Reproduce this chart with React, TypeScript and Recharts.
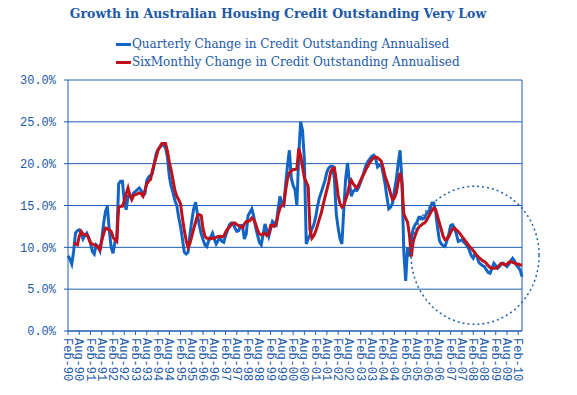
import {
  LineChart,
  Line,
  XAxis,
  YAxis,
  CartesianGrid,
  Legend,
  ReferenceDot,
  ReferenceLine,
} from "recharts";

const AXIS_BLUE = "#1f5fae";
const TEXT_BLUE = "#2058a8";

// Monthly categories Feb-90 .. Apr-10
const monthNames = ["Jan", "Feb", "Mar", "Apr", "May", "Jun", "Jul", "Aug", "Sep", "Oct", "Nov", "Dec"];
const monthLabels: string[] = [];
for (let m = 0; m < 243; m++) {
  const idx = 1 + m;
  const yr = (1990 + Math.floor(idx / 12)) % 100;
  monthLabels.push(`${monthNames[idx % 12]}-${String(yr).padStart(2, "0")}`);
}

// Quarterly change in credit outstanding, annualised (%)
const quarterly = [
  9.0, 8.6, 8.0, 9.5, 11.7, 12.0, 12.1, 11.8, 11.0, 11.4, 11.7, 11.2,
  10.5, 9.5, 9.2, 10.3, 10.1, 9.6, 11.0, 12.9, 14.3, 14.9, 12.0, 10.0,
  9.3, 10.6, 11.0, 17.6, 17.9, 17.9, 15.5, 14.5, 16.1, 16.1, 16.0, 16.5,
  16.7, 16.9, 17.1, 16.8, 16.2, 16.4, 18.0, 18.4, 18.6, 18.8, 20.0, 21.2,
  21.7, 22.0, 22.2, 22.2, 21.9, 20.8, 18.5, 17.3, 16.5, 15.6, 15.0, 13.6,
  12.5, 11.0, 9.4, 9.2, 9.4, 11.5, 13.2, 14.6, 15.4, 14.0, 12.6, 11.6,
  10.9, 10.3, 10.1, 10.8, 11.2, 11.7, 11.0, 10.4, 10.8, 11.2, 10.7, 10.6,
  11.4, 12.0, 12.7, 12.9, 12.8, 12.3, 11.9, 12.0, 12.6, 12.6, 11.0, 11.6,
  13.8, 14.2, 14.6, 13.7, 12.4, 11.5, 10.6, 10.3, 11.5, 12.8, 12.0, 11.3,
  12.2, 13.1, 12.9, 12.7, 14.6, 16.1, 15.2, 15.0, 17.5, 19.8, 21.6, 18.3,
  17.4, 16.9, 15.0, 21.0, 25.0, 24.0, 20.5, 10.4, 11.0, 11.5, 12.2, 12.7,
  13.6, 14.9, 15.9, 16.6, 17.3, 18.0, 19.0, 19.5, 19.7, 19.7, 18.2, 14.0,
  12.3, 11.0, 10.4, 14.5, 18.2, 20.1, 17.8, 16.1, 16.7, 16.9, 16.8, 17.2,
  17.8, 18.4, 19.2, 19.9, 20.3, 20.6, 20.9, 21.0, 20.6, 19.6, 19.8, 19.9,
  18.8, 17.6, 16.0, 14.6, 14.8, 15.3, 16.8, 18.1, 20.0, 21.6, 18.0, 9.5,
  6.0, 10.0, 8.9, 11.0, 12.2, 12.7, 13.0, 13.6, 13.6, 13.4, 13.5, 14.0,
  14.2, 14.6, 15.3, 15.3, 14.2, 12.3, 10.8, 10.4, 10.2, 10.1, 10.8, 11.6,
  12.6, 12.7, 12.3, 11.6, 10.7, 10.8, 10.9, 10.6, 10.4, 10.1, 9.6, 9.0,
  8.7, 9.3, 8.9, 8.2, 8.0, 7.8, 7.7, 7.3, 7.0, 6.9, 7.5, 8.1,
  7.8, 7.5, 7.7, 8.0, 8.1, 7.9, 7.7, 8.0, 8.4, 8.7, 8.4, 7.9,
  7.6, 7.3, 6.5,
];

// Six monthly change in credit outstanding, annualised (%)
const sixMonthly = [
  null, null, null, 10.5, 10.4, 10.3, 11.3, 11.9, 11.6, 11.5, 11.5, 11.1,
  10.5, 10.4, 10.3, 10.2, 10.0, 9.7, 10.8, 11.6, 12.3, 12.2, 12.1, 11.9,
  11.2, 10.9, 10.7, 14.8, 14.9, 14.9, 15.5, 16.4, 17.1, 16.2, 15.7, 16.2,
  16.3, 16.4, 16.5, 16.4, 16.1, 16.8, 17.6, 17.9, 18.1, 19.2, 20.0, 20.8,
  21.6, 22.0, 22.4, 22.4, 22.4, 21.5, 20.2, 19.2, 18.0, 16.8, 16.1, 15.7,
  15.2, 13.5, 12.0, 10.8, 10.0, 10.5, 11.3, 12.2, 13.0, 13.8, 13.9, 13.8,
  12.2, 11.3, 11.1, 11.1, 11.0, 11.1, 11.1, 11.2, 11.3, 11.3, 11.3, 11.3,
  11.8, 12.2, 12.4, 12.7, 12.9, 12.9, 12.7, 12.6, 12.5, 12.3, 12.8, 13.1,
  13.1, 13.2, 13.5, 13.3, 12.8, 12.1, 11.6, 11.5, 11.6, 11.7, 11.4, 11.6,
  12.6, 12.6, 12.5, 12.8, 13.9, 14.7, 15.0, 15.1, 16.8, 18.2, 18.9, 19.1,
  19.3, 19.3, 19.4, 21.8, 21.0, 19.6, 18.3, 17.8, 17.3, 12.1, 11.1, 11.4,
  11.9, 12.6, 13.4, 14.1, 15.1, 16.0, 16.9, 17.8, 19.0, 19.4, 19.5, 18.0,
  16.2, 15.2, 14.8, 15.0, 15.7, 16.4, 17.4, 18.0, 17.6, 17.3, 17.1, 17.5,
  18.0, 18.5, 18.9, 19.4, 19.8, 20.2, 20.5, 20.7, 20.8, 20.7, 20.5, 20.3,
  19.5, 18.5, 17.9, 17.2, 16.4, 15.7, 15.9, 16.5, 17.8, 18.9, 17.7, 14.0,
  13.5, 13.0, 11.5, 8.9, 10.7, 11.4, 12.0, 12.4, 12.6, 12.8, 12.9, 13.2,
  13.6, 14.0, 14.4, 14.7, 14.5, 13.7, 12.9, 12.1, 11.3, 10.9, 11.0, 11.3,
  11.8, 12.2, 12.3, 12.1, 11.9, 11.6, 11.3, 11.0, 10.7, 10.4, 10.1, 9.9,
  9.6, 9.3, 9.0, 8.8, 8.6, 8.4, 8.3, 8.1, 7.8, 7.6, 7.5, 7.5,
  7.5, 7.6, 7.9, 8.1, 8.0, 7.9, 8.0, 8.2, 8.3, 8.2, 8.1, 8.0,
  8.0, 7.9, 7.9,
];

const yTicks = [0, 5, 10, 15, 20, 25, 30];

// circled region (annotation)
const circleAt = { month: "Mar-08", value: 9.05 };

const data = monthLabels.map((month, i) => ({
  month,
  quarterly: quarterly[i],
  sixMonthly: sixMonthly[i],
}));

function MonthTick(props: any) {
  const { x, y, payload } = props;
  return (
    <text
      x={x}
      y={y}
      dy={4}
      transform={`rotate(90, ${x}, ${y})`}
      textAnchor="start"
      fill={TEXT_BLUE}
      fontSize={12}
      fontFamily="Liberation Mono"
    >
      {payload.value}
    </text>
  );
}

function LegendBox(props: any) {
  const items = props.payload || [];
  return (
    <div style={{ fontFamily: "DejaVu Serif", fontSize: 12, color: TEXT_BLUE }}>
      {items.map((it: any) => (
        <div key={it.value} style={{ display: "flex", alignItems: "center", height: 18 }}>
          <span
            style={{ display: "inline-block", width: 15, height: 3, background: it.color, marginRight: 1 }}
          />
          <span>{it.value}</span>
        </div>
      ))}
    </div>
  );
}

export default function App() {
  return (
    <div style={{ position: "absolute", left: 0, top: 0, width: 577, height: 395, background: "#fff" }}>
      <div
        style={{
          position: "absolute",
          left: 0,
          top: 6,
          width: 556,
          textAlign: "center",
          fontFamily: "DejaVu Serif",
          fontWeight: "bold",
          fontSize: 12.5,
          color: TEXT_BLUE,
          zIndex: 2,
        }}
      >
        Growth in Australian Housing Credit Outstanding Very Low
      </div>
      <LineChart
        width={577}
        height={395}
        data={data}
        margin={{ top: 80, right: 55, left: 0, bottom: 4 }}
      >
        <CartesianGrid vertical={false} stroke={AXIS_BLUE} strokeWidth={1} />
        <XAxis
          dataKey="month"
          interval={5}
          tick={<MonthTick />}
          tickSize={4}
          tickMargin={3}
          height={60}
          axisLine={{ stroke: AXIS_BLUE }}
          tickLine={{ stroke: AXIS_BLUE }}
        />
        <YAxis
          domain={[0, 30]}
          ticks={yTicks}
          width={68}
          tickSize={4}
          tickMargin={8}
          tickFormatter={(v: number) => `${v.toFixed(1)}%`}
          tick={{ fill: TEXT_BLUE, fontSize: 12, fontFamily: "Liberation Mono" }}
          axisLine={{ stroke: AXIS_BLUE }}
          tickLine={{ stroke: AXIS_BLUE }}
        />
        <ReferenceLine x={monthLabels[monthLabels.length - 1]} stroke={AXIS_BLUE} />
        <Legend
          layout="vertical"
          align="center"
          verticalAlign="middle"
          wrapperStyle={{ top: 35, left: 116, width: "auto" }}
          content={<LegendBox />}
        />
        <Line
          type="linear"
          dataKey="quarterly"
          name="Quarterly Change in Credit Outstanding Annualised"
          stroke="#1265c4"
          strokeWidth={3}
          dot={false}
          isAnimationActive={false}
        />
        <Line
          type="linear"
          dataKey="sixMonthly"
          name="SixMonthly Change in Credit Outstanding Annualised"
          stroke="#c0101c"
          strokeWidth={3}
          dot={false}
          connectNulls={false}
          isAnimationActive={false}
        />
        <ReferenceDot
          x={circleAt.month}
          y={circleAt.value}
          ifOverflow="visible"
          shape={(p: any) => (
            <ellipse
              cx={p.cx}
              cy={p.cy}
              rx={64}
              ry={69}
              fill="none"
              stroke={AXIS_BLUE}
              strokeWidth={1.5}
              strokeDasharray="2 3"
            />
          )}
        />
      </LineChart>
    </div>
  );
}
